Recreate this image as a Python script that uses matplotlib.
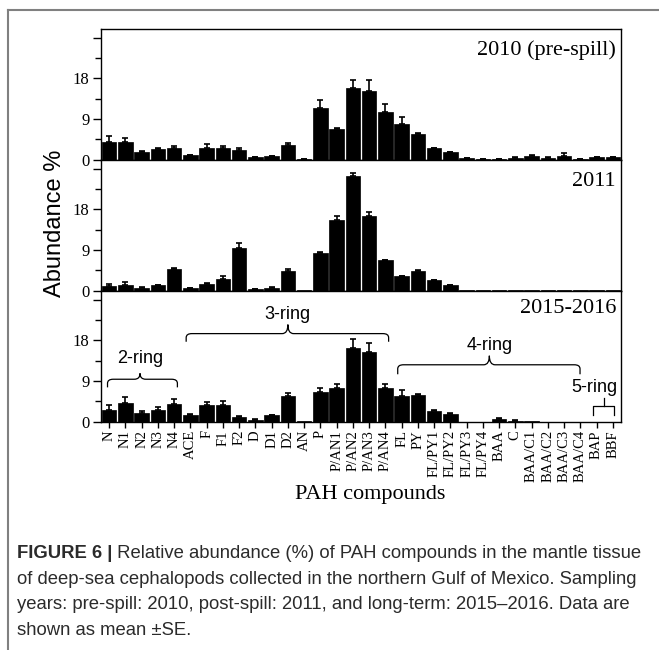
import numpy as np
from matplotlib import pyplot as plt
from matplotlib.path import Path
from matplotlib.patches import PathPatch
from matplotlib.lines import Line2D
from matplotlib.ticker import FixedLocator, FixedFormatter

# composes PAH
labels = ["N", "N1", "N2", "N3", "N4", "ACE", "F", "F1", "F2", "D", "D1", "D2", "AN", "P",
          "P/AN1", "P/AN2", "P/AN3", "P/AN4", "FL", "PY", "FL/PY1", "FL/PY2", "FL/PY3", "FL/PY4",
          "BAA", "C", "BAA/C1", "BAA/C2", "BAA/C3", "BAA/C4", "BAP", "BBF"]

# 2010 (pre-spill)
mean_2010 = [4.0, 3.9, 1.7, 2.3, 2.7, 1.0, 2.7, 2.7, 2.2, 0.6, 0.8, 3.2, 0.2, 11.4,
             6.7, 15.8, 15.3, 10.6, 8.0, 5.7, 2.5, 1.6, 0.3, 0.2,
             0.2, 0.4, 0.8, 0.4, 0.9, 0.1, 0.5, 0.5]
se_2010 = [1.2, 1.0, 0.3, 0.2, 0.4, 0.1, 0.7, 0.4, 0.3, 0.1, 0.1, 0.6, 0.05, 1.9,
           0.4, 1.8, 2.3, 1.8, 1.5, 0.3, 0.2, 0.2, 0.05, 0.05,
           0.05, 0.1, 0.2, 0.1, 0.6, 0.05, 0.1, 0.1]

# 2011
mean_2011 = [1.0, 1.3, 0.7, 1.2, 4.7, 0.6, 1.5, 2.7, 9.5, 0.3, 0.7, 4.4, 0.05, 8.4,
             15.6, 25.5, 16.6, 6.7, 3.2, 4.3, 2.3, 1.2, 0.1, 0.05,
             0.1, 0.1, 0.1, 0.1, 0.2, 0.05, 0.05, 0.05]
se_2011 = [0.4, 0.7, 0.1, 0.1, 0.3, 0.05, 0.3, 0.5, 1.1, 0.05, 0.1, 0.4, 0.0, 0.2,
           1.0, 0.6, 0.8, 0.2, 0.1, 0.2, 0.1, 0.1, 0.0, 0.0,
           0.0, 0.0, 0.0, 0.0, 0.0, 0.0, 0.0, 0.0]

# 2015-2016
mean_2015 = [2.6, 4.05, 1.9, 2.5, 4.0, 1.4, 3.7, 3.75, 1.1, 0.45, 1.4, 5.6, 0.1, 6.6,
             7.5, 16.4, 15.4, 7.4, 5.6, 5.85, 2.3, 1.7, 0.0, 0.0,
             0.55, 0.25, 0.1, 0.0, 0.0, 0.0, 0.0, 0.0]
se_2015 = [1.0, 1.35, 0.45, 0.7, 1.0, 0.3, 0.7, 0.75, 0.2, 0.05, 0.1, 0.8, 0.0, 0.9,
           0.75, 1.8, 2.1, 1.0, 1.4, 0.35, 0.3, 0.2, 0.0, 0.0,
           0.25, 0.1, 0.0, 0.0, 0.0, 0.0, 0.0, 0.0]

years = ["2010 (pre-spill)", "2011", "2015-2016"]
means = [mean_2010, mean_2011, mean_2015]
ses = [se_2010, se_2011, se_2015]

# groupes de cycles (debut, fin, pointe) en indices de categories
ring_names = ["2-ring", "3-ring", "4-ring"]
ring_span = [(-0.1, 4.2, 1.9), (4.74, 17.2, 11.0), (17.76, 28.98, 23.4)]
ring_level = [(7.6, 9.4, 10.7, 13.9), (17.7, 19.5, 21.5, 23.8), (10.5, 12.6, 14.6, 16.9)]

serif = ["Liberation Serif", "DejaVu Serif"]
sans = ["Liberation Sans", "DejaVu Sans"]

fig = plt.figure(figsize=(6.59, 6.50), dpi=100)
W, H = 659., 650.

x = np.arange(len(labels))
left = 100.7 / W
width = 520.6 / W
panel_h = 131.0 / H
bottom0 = 1 - 421.7 / H
label_y = [0.84, 0.835, 0.865]

axes = []
for k in range(3):
    b = bottom0 + (2 - k) * panel_h
    ax = fig.add_axes([left, b, width, panel_h])
    axes.append(ax)
    m = np.array(means[k])
    e = np.array(ses[k])
    ax.bar(x, m, width=0.88, color="black", edgecolor="black", linewidth=0.5, zorder=2)
    ok = e > 0
    ax.errorbar(x[ok], m[ok], yerr=[np.zeros(ok.sum()), e[ok]], fmt="none",
                ecolor="black", elinewidth=1.2, capsize=2.5, capthick=1.2, zorder=3)
    ax.set_xlim(-0.52, 31.52)
    ax.set_ylim(0, 29)
    ax.yaxis.set_major_locator(FixedLocator([0, 9, 18, 27]))
    ax.yaxis.set_major_formatter(FixedFormatter(["0", "9", "18", ""]))
    ax.yaxis.set_minor_locator(FixedLocator([4.5, 13.5, 22.5]))
    ax.tick_params(axis="y", which="major", direction="out", length=6, width=1, labelsize=12, pad=2)
    ax.tick_params(axis="y", which="minor", direction="out", length=4, width=1)
    for lab in ax.get_yticklabels():
        lab.set_family(serif)
    for s in ax.spines.values():
        s.set_linewidth(1.0)
    ax.text(0.99, label_y[k], years[k], transform=ax.transAxes, ha="right", va="center",
            family=serif, fontsize=16)
    if k < 2:
        ax.set_xticks([])
    else:
        ax.set_xticks(x)
        ax.set_xticklabels(labels, rotation=90, family=serif, fontsize=10.5)
        ax.tick_params(axis="x", direction="out", length=4, width=1, pad=2)

# accolades dans le dernier panneau
ax = axes[2]
rx, ry = 0.35, 0.9
for name, (x0, x1, xc), (ylow, ymid, ytip, ytxt) in zip(ring_names, ring_span, ring_level):
    verts = [(x0, ylow), (x0, ymid - ry), (x0, ymid), (x0 + rx, ymid),
             (xc - rx, ymid), (xc, ymid), (xc, ytip),
             (xc, ymid), (xc + rx, ymid), (x1 - rx, ymid),
             (x1, ymid), (x1, ymid - ry), (x1, ylow)]
    codes = [Path.MOVETO, Path.LINETO, Path.CURVE3, Path.CURVE3,
             Path.LINETO, Path.CURVE3, Path.CURVE3,
             Path.CURVE3, Path.CURVE3, Path.LINETO,
             Path.CURVE3, Path.CURVE3, Path.LINETO]
    ax.add_patch(PathPatch(Path(verts, codes), fill=False, lw=0.9, color="black", clip_on=False))
    ax.text(xc, ytxt, name, ha="center", va="center", family=sans, fontsize=13)

# 5-ring : crochet simple
ax.plot([29.8, 29.8, 31.1, 31.1], [1.5, 3.4, 3.4, 1.5], color="black", lw=0.9, clip_on=False)
ax.plot([30.45, 30.45], [3.4, 5.3], color="black", lw=0.9, clip_on=False)
ax.text(29.85, 7.6, "5-ring", ha="center", va="center", family=sans, fontsize=13)

fig.text(55 / W, 1 - 223 / H, "Abundance %", rotation=90, ha="center", va="center",
         family=sans, fontsize=17)
fig.text(370 / W, 1 - 495 / H, "PAH compounds", ha="center", va="center",
         family=serif, fontsize=16)

# cadre gris
fig.add_artist(Line2D([8 / W, 1], [1 - 10 / H, 1 - 10 / H], color="#808080", lw=1.5))
fig.add_artist(Line2D([8 / W, 8 / W], [0, 1 - 10 / H], color="#808080", lw=1.5))

# legende de la figure
cap_size = 13.3
cap_color = "#2b2b2b"
t = fig.text(17 / W, 1 - 553 / H, "FIGURE 6 |", family=sans, fontsize=cap_size,
             fontweight="bold", va="center", color=cap_color)
ax.annotate(" Relative abundance (%) of PAH compounds in the mantle tissue",
            xy=(1, 0.5), xycoords=t, va="center", ha="left",
            family=sans, fontsize=cap_size, color=cap_color, annotation_clip=False)
cap_lines = ["of deep-sea cephalopods collected in the northern Gulf of Mexico. Sampling",
             "years: pre-spill: 2010, post-spill: 2011, and long-term: 2015\u20132016. Data are",
             "shown as mean \u00b1SE."]
for i, line in enumerate(cap_lines):
    fig.text(17 / W, 1 - (579 + 25.7 * i) / H, line, family=sans, fontsize=cap_size,
             va="center", color=cap_color)

fig.savefig("out.png", dpi=100)
